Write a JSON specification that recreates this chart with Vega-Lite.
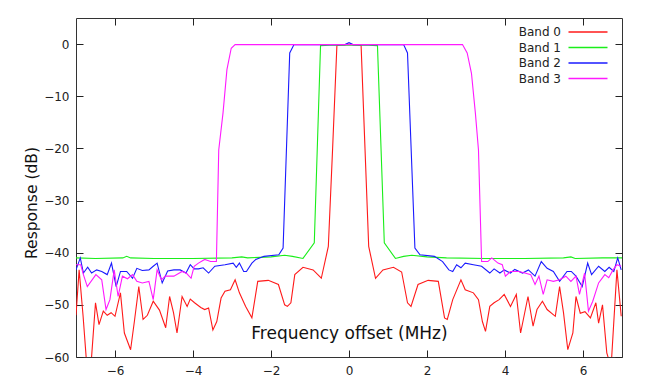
{
  "$schema": "https://vega.github.io/schema/vega-lite/v6.json",
  "width": 546,
  "height": 339,
  "autosize": {"type": "none"},
  "padding": {"left": 76, "top": 18, "right": 23, "bottom": 28},
  "background": "white",
  "datasets": {
    "resp": [
      {"band":"Band 0","freq":-7.0,"db":-52},{"band":"Band 0","freq":-6.92,"db":-43.3},{"band":"Band 0","freq":-6.82,"db":-52},{"band":"Band 0","freq":-6.72,"db":-62},{"band":"Band 0","freq":-6.62,"db":-62},{"band":"Band 0","freq":-6.5,"db":-49.6},{"band":"Band 0","freq":-6.41,"db":-53.8},{"band":"Band 0","freq":-6.3,"db":-51.2},{"band":"Band 0","freq":-6.2,"db":-52},{"band":"Band 0","freq":-6.1,"db":-51.5},{"band":"Band 0","freq":-6.0,"db":-52.2},{"band":"Band 0","freq":-5.86,"db":-47.7},{"band":"Band 0","freq":-5.76,"db":-55.4},{"band":"Band 0","freq":-5.6,"db":-58.6},{"band":"Band 0","freq":-5.5,"db":-53},{"band":"Band 0","freq":-5.39,"db":-46.5},{"band":"Band 0","freq":-5.28,"db":-52.8},{"band":"Band 0","freq":-5.17,"db":-52},{"band":"Band 0","freq":-5.02,"db":-49.3},{"band":"Band 0","freq":-4.86,"db":-51},{"band":"Band 0","freq":-4.7,"db":-54.4},{"band":"Band 0","freq":-4.6,"db":-48.4},{"band":"Band 0","freq":-4.5,"db":-51.5},{"band":"Band 0","freq":-4.41,"db":-55.4},{"band":"Band 0","freq":-4.28,"db":-48.4},{"band":"Band 0","freq":-4.15,"db":-50.3},{"band":"Band 0","freq":-4.07,"db":-48.9},{"band":"Band 0","freq":-3.96,"db":-49.6},{"band":"Band 0","freq":-3.8,"db":-50.5},{"band":"Band 0","freq":-3.7,"db":-50.9},{"band":"Band 0","freq":-3.6,"db":-50.6},{"band":"Band 0","freq":-3.49,"db":-54.8},{"band":"Band 0","freq":-3.39,"db":-53.2},{"band":"Band 0","freq":-3.28,"db":-48.7},{"band":"Band 0","freq":-3.18,"db":-47.4},{"band":"Band 0","freq":-3.04,"db":-47.1},{"band":"Band 0","freq":-2.92,"db":-45.2},{"band":"Band 0","freq":-2.81,"db":-47.7},{"band":"Band 0","freq":-2.65,"db":-50.3},{"band":"Band 0","freq":-2.49,"db":-52.5},{"band":"Band 0","freq":-2.34,"db":-45.5},{"band":"Band 0","freq":-2.07,"db":-45.3},{"band":"Band 0","freq":-1.81,"db":-46.1},{"band":"Band 0","freq":-1.65,"db":-50},{"band":"Band 0","freq":-1.58,"db":-50.3},{"band":"Band 0","freq":-1.49,"db":-49.6},{"band":"Band 0","freq":-1.39,"db":-44.2},{"band":"Band 0","freq":-1.18,"db":-42.8},{"band":"Band 0","freq":-0.92,"db":-43.3},{"band":"Band 0","freq":-0.71,"db":-44.9},{"band":"Band 0","freq":-0.53,"db":-38.8},{"band":"Band 0","freq":-0.42,"db":-20},{"band":"Band 0","freq":-0.31,"db":-0.2},{"band":"Band 0","freq":-0.1,"db":-0.1},{"band":"Band 0","freq":0,"db":0},{"band":"Band 0","freq":0.1,"db":-0.1},{"band":"Band 0","freq":0.31,"db":-0.2},{"band":"Band 0","freq":0.41,"db":-20},{"band":"Band 0","freq":0.505,"db":-38.8},{"band":"Band 0","freq":0.68,"db":-44.9},{"band":"Band 0","freq":0.87,"db":-43.3},{"band":"Band 0","freq":1.14,"db":-42.8},{"band":"Band 0","freq":1.35,"db":-43.7},{"band":"Band 0","freq":1.5,"db":-49.6},{"band":"Band 0","freq":1.59,"db":-50.3},{"band":"Band 0","freq":1.77,"db":-46.1},{"band":"Band 0","freq":2.03,"db":-45.3},{"band":"Band 0","freq":2.29,"db":-45.5},{"band":"Band 0","freq":2.45,"db":-52.5},{"band":"Band 0","freq":2.52,"db":-52.8},{"band":"Band 0","freq":2.66,"db":-49},{"band":"Band 0","freq":2.87,"db":-45.2},{"band":"Band 0","freq":2.98,"db":-47.1},{"band":"Band 0","freq":3.19,"db":-47.7},{"band":"Band 0","freq":3.32,"db":-49},{"band":"Band 0","freq":3.42,"db":-53.2},{"band":"Band 0","freq":3.5,"db":-55.1},{"band":"Band 0","freq":3.61,"db":-50.3},{"band":"Band 0","freq":3.72,"db":-49.6},{"band":"Band 0","freq":3.85,"db":-49},{"band":"Band 0","freq":3.98,"db":-48},{"band":"Band 0","freq":4.14,"db":-50.3},{"band":"Band 0","freq":4.29,"db":-48},{"band":"Band 0","freq":4.4,"db":-55.4},{"band":"Band 0","freq":4.59,"db":-48.4},{"band":"Band 0","freq":4.72,"db":-54.1},{"band":"Band 0","freq":4.82,"db":-50.9},{"band":"Band 0","freq":4.96,"db":-49.3},{"band":"Band 0","freq":5.08,"db":-50.9},{"band":"Band 0","freq":5.29,"db":-52.2},{"band":"Band 0","freq":5.4,"db":-46.5},{"band":"Band 0","freq":5.5,"db":-51.5},{"band":"Band 0","freq":5.61,"db":-58.6},{"band":"Band 0","freq":5.74,"db":-55.4},{"band":"Band 0","freq":5.82,"db":-48.4},{"band":"Band 0","freq":5.93,"db":-51.6},{"band":"Band 0","freq":6.05,"db":-51.3},{"band":"Band 0","freq":6.19,"db":-52.5},{"band":"Band 0","freq":6.33,"db":-49.6},{"band":"Band 0","freq":6.4,"db":-53.5},{"band":"Band 0","freq":6.5,"db":-50},{"band":"Band 0","freq":6.61,"db":-59.2},{"band":"Band 0","freq":6.72,"db":-62},{"band":"Band 0","freq":6.87,"db":-43.3},{"band":"Band 0","freq":6.98,"db":-52.2},

      {"band":"Band 1","freq":-7.0,"db":-41.0},{"band":"Band 1","freq":-6.5,"db":-41.1},{"band":"Band 1","freq":-5.8,"db":-41.0},{"band":"Band 1","freq":-5.7,"db":-40.7},{"band":"Band 1","freq":-5.6,"db":-41.0},{"band":"Band 1","freq":-5.0,"db":-41.1},{"band":"Band 1","freq":-4.0,"db":-41.1},{"band":"Band 1","freq":-3.0,"db":-41.0},{"band":"Band 1","freq":-2.75,"db":-40.8},{"band":"Band 1","freq":-2.6,"db":-41.0},{"band":"Band 1","freq":-2.0,"db":-40.8},{"band":"Band 1","freq":-1.65,"db":-40.5},{"band":"Band 1","freq":-1.45,"db":-40.7},{"band":"Band 1","freq":-1.18,"db":-41.1},{"band":"Band 1","freq":-0.89,"db":-38.1},{"band":"Band 1","freq":-0.73,"db":-0.3},{"band":"Band 1","freq":-0.5,"db":-0.2},{"band":"Band 1","freq":0,"db":-0.2},{"band":"Band 1","freq":0.5,"db":-0.2},{"band":"Band 1","freq":0.73,"db":-0.3},{"band":"Band 1","freq":0.905,"db":-38.1},{"band":"Band 1","freq":1.19,"db":-41.1},{"band":"Band 1","freq":1.4,"db":-40.7},{"band":"Band 1","freq":1.61,"db":-40.5},{"band":"Band 1","freq":2.0,"db":-40.8},{"band":"Band 1","freq":2.5,"db":-41.0},{"band":"Band 1","freq":3.5,"db":-41.1},{"band":"Band 1","freq":4.5,"db":-41.1},{"band":"Band 1","freq":5.5,"db":-41.0},{"band":"Band 1","freq":5.69,"db":-40.8},{"band":"Band 1","freq":5.8,"db":-41.1},{"band":"Band 1","freq":6.5,"db":-41.0},{"band":"Band 1","freq":7.0,"db":-41.0},

      {"band":"Band 2","freq":-7.0,"db":-43.3},{"band":"Band 2","freq":-6.89,"db":-41},{"band":"Band 2","freq":-6.81,"db":-43.9},{"band":"Band 2","freq":-6.7,"db":-42.8},{"band":"Band 2","freq":-6.6,"db":-43.9},{"band":"Band 2","freq":-6.47,"db":-43.3},{"band":"Band 2","freq":-6.34,"db":-43.6},{"band":"Band 2","freq":-6.2,"db":-44.2},{"band":"Band 2","freq":-6.09,"db":-42},{"band":"Band 2","freq":-5.97,"db":-46.5},{"band":"Band 2","freq":-5.86,"db":-43.6},{"band":"Band 2","freq":-5.7,"db":-43.6},{"band":"Band 2","freq":-5.55,"db":-44.9},{"band":"Band 2","freq":-5.44,"db":-43},{"band":"Band 2","freq":-5.3,"db":-43.4},{"band":"Band 2","freq":-5.13,"db":-43.3},{"band":"Band 2","freq":-5.02,"db":-42.6},{"band":"Band 2","freq":-4.92,"db":-42},{"band":"Band 2","freq":-4.79,"db":-45.8},{"band":"Band 2","freq":-4.65,"db":-43.5},{"band":"Band 2","freq":-4.49,"db":-43.3},{"band":"Band 2","freq":-4.33,"db":-43.3},{"band":"Band 2","freq":-4.18,"db":-43.9},{"band":"Band 2","freq":-4.07,"db":-42.3},{"band":"Band 2","freq":-3.97,"db":-43.1},{"band":"Band 2","freq":-3.86,"db":-43.1},{"band":"Band 2","freq":-3.74,"db":-42.9},{"band":"Band 2","freq":-3.6,"db":-43.9},{"band":"Band 2","freq":-3.44,"db":-42.6},{"band":"Band 2","freq":-3.18,"db":-42.3},{"band":"Band 2","freq":-2.97,"db":-42},{"band":"Band 2","freq":-2.89,"db":-42.8},{"band":"Band 2","freq":-2.81,"db":-42},{"band":"Band 2","freq":-2.7,"db":-43.6},{"band":"Band 2","freq":-2.63,"db":-43.6},{"band":"Band 2","freq":-2.49,"db":-42},{"band":"Band 2","freq":-2.39,"db":-41.3},{"band":"Band 2","freq":-2.18,"db":-40.7},{"band":"Band 2","freq":-1.8,"db":-40.4},{"band":"Band 2","freq":-1.69,"db":-39.1},{"band":"Band 2","freq":-1.52,"db":-1.7},{"band":"Band 2","freq":-1.41,"db":-0.1},{"band":"Band 2","freq":-1.0,"db":-0.1},{"band":"Band 2","freq":-0.5,"db":-0.1},{"band":"Band 2","freq":-0.1,"db":-0.1},{"band":"Band 2","freq":0,"db":0.3},{"band":"Band 2","freq":0.1,"db":-0.1},{"band":"Band 2","freq":0.5,"db":-0.1},{"band":"Band 2","freq":1.0,"db":-0.1},{"band":"Band 2","freq":1.4,"db":-0.1},{"band":"Band 2","freq":1.5,"db":-1.7},{"band":"Band 2","freq":1.69,"db":-39.1},{"band":"Band 2","freq":1.82,"db":-40.4},{"band":"Band 2","freq":2.19,"db":-40.7},{"band":"Band 2","freq":2.4,"db":-41.7},{"band":"Band 2","freq":2.56,"db":-43.3},{"band":"Band 2","freq":2.66,"db":-43.6},{"band":"Band 2","freq":2.76,"db":-42.3},{"band":"Band 2","freq":2.87,"db":-42.9},{"band":"Band 2","freq":2.98,"db":-42},{"band":"Band 2","freq":3.19,"db":-42.3},{"band":"Band 2","freq":3.4,"db":-42.6},{"band":"Band 2","freq":3.61,"db":-43.9},{"band":"Band 2","freq":3.72,"db":-43.1},{"band":"Band 2","freq":3.87,"db":-43.9},{"band":"Band 2","freq":3.98,"db":-43.3},{"band":"Band 2","freq":4.14,"db":-43.9},{"band":"Band 2","freq":4.25,"db":-43.2},{"band":"Band 2","freq":4.45,"db":-43.9},{"band":"Band 2","freq":4.6,"db":-43.3},{"band":"Band 2","freq":4.77,"db":-44.5},{"band":"Band 2","freq":4.93,"db":-41.7},{"band":"Band 2","freq":5.08,"db":-43},{"band":"Band 2","freq":5.24,"db":-43.6},{"band":"Band 2","freq":5.4,"db":-45.5},{"band":"Band 2","freq":5.59,"db":-43.6},{"band":"Band 2","freq":5.7,"db":-43.6},{"band":"Band 2","freq":5.82,"db":-44.5},{"band":"Band 2","freq":5.98,"db":-46.5},{"band":"Band 2","freq":6.12,"db":-42},{"band":"Band 2","freq":6.22,"db":-44.2},{"band":"Band 2","freq":6.4,"db":-42.6},{"band":"Band 2","freq":6.56,"db":-43.6},{"band":"Band 2","freq":6.67,"db":-42.8},{"band":"Band 2","freq":6.79,"db":-43.6},{"band":"Band 2","freq":6.89,"db":-41},{"band":"Band 2","freq":6.98,"db":-43.3},

      {"band":"Band 3","freq":-7.0,"db":-42.3},{"band":"Band 3","freq":-6.88,"db":-42.3},{"band":"Band 3","freq":-6.81,"db":-44.2},{"band":"Band 3","freq":-6.71,"db":-46.5},{"band":"Band 3","freq":-6.49,"db":-44.2},{"band":"Band 3","freq":-6.34,"db":-45.2},{"band":"Band 3","freq":-6.23,"db":-50.9},{"band":"Band 3","freq":-6.13,"db":-49},{"band":"Band 3","freq":-6.02,"db":-43.3},{"band":"Band 3","freq":-5.92,"db":-48.4},{"band":"Band 3","freq":-5.81,"db":-44.5},{"band":"Band 3","freq":-5.68,"db":-45},{"band":"Band 3","freq":-5.55,"db":-44.2},{"band":"Band 3","freq":-5.44,"db":-45.5},{"band":"Band 3","freq":-5.3,"db":-45.8},{"band":"Band 3","freq":-5.13,"db":-45.5},{"band":"Band 3","freq":-5.02,"db":-49},{"band":"Band 3","freq":-4.92,"db":-43.3},{"band":"Band 3","freq":-4.81,"db":-45.2},{"band":"Band 3","freq":-4.71,"db":-44.5},{"band":"Band 3","freq":-4.49,"db":-44.5},{"band":"Band 3","freq":-4.28,"db":-43.6},{"band":"Band 3","freq":-4.16,"db":-44},{"band":"Band 3","freq":-4.05,"db":-44.9},{"band":"Band 3","freq":-3.97,"db":-42.6},{"band":"Band 3","freq":-3.86,"db":-42},{"band":"Band 3","freq":-3.7,"db":-41.3},{"band":"Band 3","freq":-3.62,"db":-41.5},{"band":"Band 3","freq":-3.55,"db":-41.7},{"band":"Band 3","freq":-3.4,"db":-41.7},{"band":"Band 3","freq":-3.34,"db":-20.3},{"band":"Band 3","freq":-3.23,"db":-13.2},{"band":"Band 3","freq":-3.13,"db":-4.9},{"band":"Band 3","freq":-3.02,"db":-0.8},{"band":"Band 3","freq":-2.92,"db":-0.1},{"band":"Band 3","freq":-2.0,"db":-0.1},{"band":"Band 3","freq":0,"db":-0.1},{"band":"Band 3","freq":2.0,"db":-0.1},{"band":"Band 3","freq":2.91,"db":-0.1},{"band":"Band 3","freq":3.03,"db":-1.7},{"band":"Band 3","freq":3.14,"db":-5.6},{"band":"Band 3","freq":3.24,"db":-13.2},{"band":"Band 3","freq":3.32,"db":-20.3},{"band":"Band 3","freq":3.4,"db":-41.7},{"band":"Band 3","freq":3.56,"db":-41.7},{"band":"Band 3","freq":3.66,"db":-41},{"band":"Band 3","freq":3.82,"db":-42},{"band":"Band 3","freq":3.93,"db":-42.3},{"band":"Band 3","freq":4.01,"db":-44.5},{"band":"Band 3","freq":4.14,"db":-43.6},{"band":"Band 3","freq":4.35,"db":-43.6},{"band":"Band 3","freq":4.51,"db":-43.9},{"band":"Band 3","freq":4.66,"db":-44.2},{"band":"Band 3","freq":4.77,"db":-46.1},{"band":"Band 3","freq":4.87,"db":-44.5},{"band":"Band 3","freq":4.98,"db":-48},{"band":"Band 3","freq":5.08,"db":-45.2},{"band":"Band 3","freq":5.24,"db":-45.5},{"band":"Band 3","freq":5.4,"db":-45.2},{"band":"Band 3","freq":5.56,"db":-44.5},{"band":"Band 3","freq":5.69,"db":-45.5},{"band":"Band 3","freq":5.82,"db":-44.5},{"band":"Band 3","freq":5.91,"db":-48},{"band":"Band 3","freq":6.04,"db":-43.9},{"band":"Band 3","freq":6.14,"db":-51.2},{"band":"Band 3","freq":6.25,"db":-49.3},{"band":"Band 3","freq":6.4,"db":-45.8},{"band":"Band 3","freq":6.56,"db":-44.2},{"band":"Band 3","freq":6.66,"db":-44.8},{"band":"Band 3","freq":6.77,"db":-43.3},{"band":"Band 3","freq":6.87,"db":-42.3},{"band":"Band 3","freq":6.98,"db":-42.6}
    ]
  },
  "data": {"name": "resp"},
  "layer": [
    {
      "mark": {"type": "line", "strokeWidth": 1.1, "clip": true},
      "encoding": {
        "x": {
          "field": "freq", "type": "quantitative",
          "scale": {"domain": [-7, 7], "nice": false, "zero": false},
          "axis": {"orient": "bottom", "values": [-6, -4, -2, 0, 2, 4, 6], "title": "Frequency offset (MHz)", "titleFontSize": 17, "titleY": -18.5, "titleBaseline": "alphabetic", "labelPadding": 15}
        },
        "y": {
          "field": "db", "type": "quantitative",
          "scale": {"domain": [-60, 5], "nice": false, "zero": false},
          "axis": {"orient": "left", "values": [0, -10, -20, -30, -40, -50, -60], "title": "Response (dB)", "titleFontSize": 15.5, "titleX": -39.5, "titleY": 184.5, "titleAngle": 270, "titleAlign": "center", "titleBaseline": "alphabetic", "labelPadding": 14}
        },
        "color": {
          "field": "band", "type": "nominal",
          "scale": {"domain": ["Band 0", "Band 1", "Band 2", "Band 3"], "range": ["#ff1a1a", "#1aee1a", "#1a1aff", "#ff1aff"]},
          "legend": {"title": null, "orient": "none", "legendX": 504.5, "legendY": 6.5, "symbolType": "M-3,0H3", "symbolSize": 169, "symbolStrokeWidth": 1.4, "symbolFillColor": "transparent", "labelAlign": "right", "labelOffset": -34.5, "labelFontSize": 12, "labelFont": "DejaVu Sans", "labelColor": "#222", "rowPadding": 1.5, "padding": 0}
        }
      }
    },
    {
      "mark": {"type": "point", "opacity": 0, "size": 0},
      "encoding": {
        "x": {"field": "freq", "type": "quantitative", "axis": {"orient": "top", "values": [-6, -4, -2, 0, 2, 4, 6], "labels": false, "title": null}},
        "y": {"field": "db", "type": "quantitative", "axis": {"orient": "right", "values": [0, -10, -20, -30, -40, -50, -60], "labels": false, "title": null}}
      }
    }
  ],
  "config": {
    "view": {"stroke": "#333", "strokeWidth": 1},
    "axis": {
      "grid": false, "domain": false, "tickColor": "#222", "tickSize": -7, "tickWidth": 1,
      "labelFont": "DejaVu Sans", "labelFontSize": 12, "labelColor": "#222",
      "titleFont": "DejaVu Sans", "titleFontSize": 16, "titleFontWeight": "normal", "titleColor": "#111",
      "zindex": 1
    }
  }
}
